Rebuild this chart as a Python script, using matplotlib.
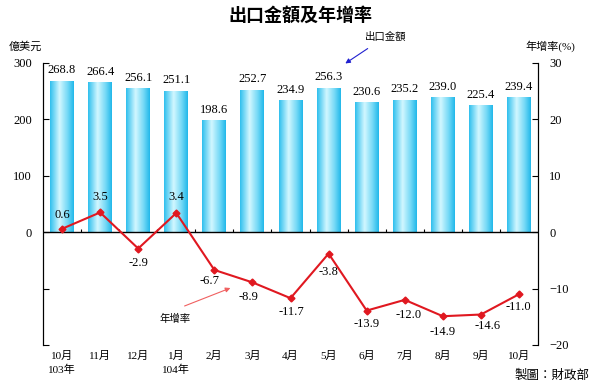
import matplotlib
matplotlib.use("Agg")
import matplotlib.pyplot as plt
from matplotlib.colors import LinearSegmentedColormap
from matplotlib.patches import FancyArrowPatch
import numpy as np

plt.rcParams['font.family'] = ['Liberation Serif', 'Noto Sans CJK TC']

months = ['10月\n103年', '11月', '12月', '1月\n104年', '2月', '3月', '4月',
          '5月', '6月', '7月', '8月', '9月', '10月']
exports = [268.8, 266.4, 256.1, 251.1, 198.6, 252.7, 234.9, 256.3, 230.6,
           235.2, 239.0, 225.4, 239.4]
growth = [0.6, 3.5, -2.9, 3.4, -6.7, -8.9, -11.7, -3.8, -13.9, -12.0, -14.9,
          -14.6, -11.0]

# label offsets for growth values (pixels)
g_off = [(0, 14), (0, 15), (0, -14), (0, 16), (-5, -11), (-4, -15), (1, -14),
         (0, -18), (0, -13), (4, -15), (0, -16), (7, -11), (-1, -13)]

x = np.arange(len(months))

fig = plt.figure(figsize=(6, 3.84), dpi=100)
ax = fig.add_axes([0.0717, 0.1016, 0.825, 0.7344])
ax2 = ax.twinx()

ax.set_xlim(-0.5, len(months) - 0.5)
ax.set_ylim(-200, 300)
ax2.set_ylim(-20, 30)

cmap = LinearSegmentedColormap.from_list(
    'bar', [(0, '#30c0ee'), (0.4, '#d2f7ff'), (0.75, '#72d8f6'), (1, '#22b8ea')])
grad = np.linspace(0, 1, 64).reshape(1, -1)
w = 0.63
bars = ax.bar(x, exports, width=w, color='none', edgecolor='none')
for b in bars:
    im = ax.imshow(grad, cmap=cmap, aspect='auto', zorder=1,
                   extent=[b.get_x(), b.get_x() + w, 0, b.get_height()])
    im.set_clip_path(b)
for xi, v in zip(x, exports):
    ax.annotate(f'{v:.1f}', (xi, v), xytext=(0, 3), textcoords='offset points',
                ha='center', va='bottom', fontsize=9)

ax.axhline(0, color='black', lw=1, zorder=3)
ax.vlines(x[:-1] + 0.5, 0, 6, color='black', lw=0.8, zorder=3)

ax2.plot(x, growth, color='#e01820', lw=1.5, marker='D', ms=3.5, zorder=4)
for xi, v, (dx, dy) in zip(x, growth, g_off):
    ax2.annotate(f'{v:.1f}', (xi, v), xytext=(dx, dy), textcoords='offset pixels',
                 ha='center', va='center', fontsize=9)

for a in (ax, ax2):
    a.spines['top'].set_visible(False)
    a.spines['bottom'].set_visible(False)
    a.tick_params(axis='y', direction='in', length=4, labelsize=9, pad=8)

ax.set_yticks([-200, -100, 0, 100, 200, 300])
ax.set_yticklabels(['', '', '0', '100', '200', '300'])
ax2.set_yticks([-20, -10, 0, 10, 20, 30])
ax.set_xticks(x)
ax.set_xticklabels(months, fontsize=8, linespacing=1.5, va='top')
ax.tick_params(axis='x', length=0, pad=4)

ax.set_zorder(ax2.get_zorder() - 1)
ax2.patch.set_visible(False)

fig.text(0.5, 0.958, '出口金額及年增率', ha='center', va='center',
         fontsize=13, fontweight='bold', family=['Noto Sans CJK TC'])
fig.text(0.042, 0.88, '億美元', ha='center', va='center', fontsize=8)
fig.text(0.917, 0.88, '年增率(%)', ha='center', va='center', fontsize=8)
fig.text(0.983, 0.023, '製圖：財政部', ha='right', va='center', fontsize=9,
         family=['Noto Sans CJK TC'])

fig.text(0.642, 0.904, '出口金額', ha='center', va='center', fontsize=7.5)
fig.add_artist(FancyArrowPatch(
    (370 / 600, 1 - 47 / 384), (343 / 600, 1 - 65 / 384),
    transform=fig.transFigure, arrowstyle='-|>', mutation_scale=7,
    color='#2020d0', lw=0.8))
fig.text(0.292, 0.169, '年增率', ha='center', va='center', fontsize=7.5)
fig.add_artist(FancyArrowPatch(
    (182 / 600, 1 - 307 / 384), (233 / 600, 1 - 287 / 384),
    transform=fig.transFigure, arrowstyle='-|>', mutation_scale=7,
    color='#f06060', lw=0.8))

fig.savefig('out.png', dpi=100)
